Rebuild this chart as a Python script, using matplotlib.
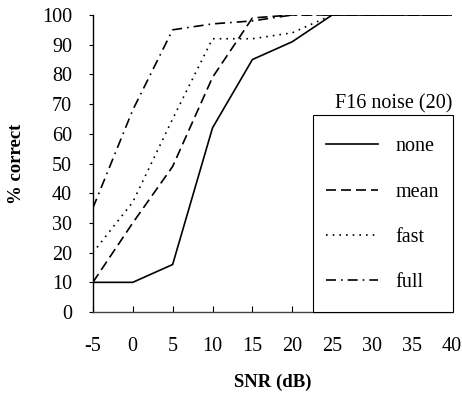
import numpy as np
import matplotlib
matplotlib.use("Agg")
import matplotlib.pyplot as plt
from matplotlib.patches import Rectangle

plt.rcParams['font.family'] = ['Liberation Serif', 'DejaVu Serif']
plt.rcParams['axes.unicode_minus'] = False

# data
snr = [-5, 0, 5, 10, 15, 20, 25, 30, 35, 40]
none = [10, 10, 16, 62, 85, 91, 100, 100, 100, 100]
mean = [10, 30, 49, 79, 99, 100, 100, 100, 100, 100]
fast = [20, 37, 65, 92, 92, 94, 100, 100, 100, 100]
full = [35, 68, 95, 97, 98, 100, 100, 100, 100, 100]

fig = plt.figure(figsize=(4.62, 3.94), dpi=100)
ax = fig.add_axes([0.201, 0.208, 0.777, 0.754])

lw = 1.2
ax.plot(snr, none, color='black', lw=lw, linestyle='-', label='none')
ax.plot(snr, mean, color='black', lw=lw, linestyle=(0, (6, 3)), label='mean')
ax.plot(snr, fast, color='black', lw=lw, linestyle=(0, (1, 3)), label='fast')
ax.plot(snr, full, color='black', lw=lw, linestyle=(0, (6, 3, 1, 3)), label='full')

ax.set_xlim(-5, 40)
ax.set_ylim(0, 100)
ax.set_xticks(np.arange(-5, 41, 5))
ax.set_yticks(np.arange(0, 101, 10))
ax.tick_params(axis='x', direction='in', length=4, labelsize=14.5, pad=18)
ax.tick_params(axis='y', direction='out', length=3, labelsize=14.5, pad=12)
for s in ['top', 'right']:
    ax.spines[s].set_visible(False)
ax.spines['left'].set_linewidth(1.0)
ax.spines['bottom'].set_linewidth(1.0)
ax.spines['bottom'].set_color('#444444')

ax.set_xlabel('SNR (dB)', fontsize=13.5, fontweight='bold', labelpad=13)
ax.set_ylabel('% correct', fontsize=13.5, fontweight='bold', labelpad=12)

# legend box drawn separately so it can reach down to the x axis
box = Rectangle((0.613, 0.0), 0.39, 0.663, transform=ax.transAxes,
                facecolor='white', edgecolor='black', lw=0.8,
                clip_on=False, zorder=4)
ax.add_patch(box)
leg = ax.legend(loc='upper left', bbox_to_anchor=(0.649, 0.588), fontsize=14.5,
                handlelength=2.6, labelspacing=1.3, borderpad=0,
                handletextpad=0.85, frameon=False, borderaxespad=0)
leg.set_zorder(5)
ax.text(0.838, 0.668, 'F16 noise (20)', transform=ax.transAxes,
        ha='center', va='bottom', fontsize=14.5)

fig.savefig('out.png', dpi=100)
